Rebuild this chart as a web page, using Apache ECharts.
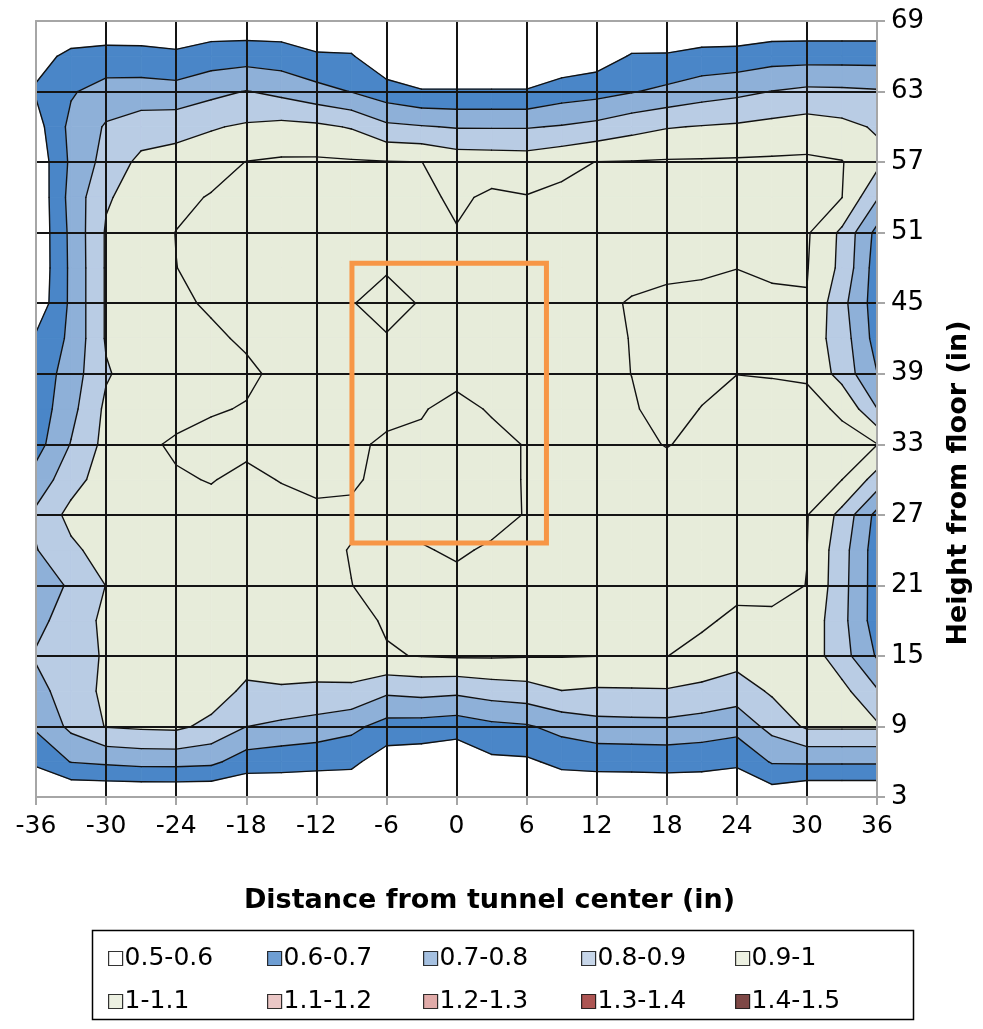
<!DOCTYPE html>
<html>
<head>
<meta charset="utf-8">
<script src="https://cdn.jsdelivr.net/npm/echarts@6/dist/echarts.min.js"></script>
<style>
  html, body { margin: 0; padding: 0; background: #ffffff; }
  #chart { width: 983px; height: 1029px; }
</style>
</head>
<body>
<div id="chart"></div>
<script>
// Horizontal measurement positions, distance from tunnel centre (in)
const distance = [-36, -33, -30, -27, -24, -21, -18, -15, -12, -9, -6, -3, 0,
                  3, 6, 9, 12, 15, 18, 21, 24, 27, 30, 33, 36];
// Vertical measurement positions, height from floor (in), top row first
const height = [69, 66, 63, 60, 57, 54, 51, 48, 45, 42, 39, 36, 33, 30, 27, 24, 21, 18, 15, 12, 9, 6, 3];

// Measured ratio, one row per height (same order as `height`), one value per distance
const ratioRows = [
  [.50,.53,.53,.53,.51,.53,.53,.53,.50,.50,.50,.50,.50,.50,.50,.50,.50,.50,.50,.51,.51,.52,.52,.52,.52],
  [.57,.62,.632,.63,.622,.65,.657,.648,.614,.609,.516,.52,.52,.52,.52,.524,.548,.609,.61,.631,.636,.658,.661,.661,.661],
  [.61,.69,.743,.746,.736,.772,.804,.774,.732,.697,.645,.606,.606,.606,.606,.648,.665,.694,.722,.755,.776,.802,.821,.818,.81],
  [.56,.727,.81,.847,.861,.892,.913,.928,.92,.893,.821,.807,.793,.793,.793,.807,.829,.867,.894,.905,.914,.93,.946,.927,.889],
  [.53,.718,.836,.925,.945,.958,1.002,1.012,1.014,1.009,1.004,1.001,.96,.955,.95,.975,1.002,1.004,1.009,1.01,1.012,1.014,1.015,1.004,.93],
  [.52,.734,.89,.94,.975,1.007,1.02,1.025,1.025,1.025,1.025,1.02,.985,1.015,1.004,1.02,1.025,1.025,1.025,1.025,1.025,1.025,1.025,1.001,.81],
  [.52,.723,.91,.95,1.002,1.03,1.03,1.03,1.03,1.03,1.03,1.03,1.005,1.03,1.03,1.03,1.03,1.03,1.03,1.03,1.03,1.03,1.012,.88,.67],
  [.52,.72,.91,.95,.999,1.027,1.03,1.03,1.03,1.03,1.004,1.03,1.03,1.03,1.03,1.03,1.03,1.024,1.014,1.01,1.001,1.013,1.005,.875,.65],
  [.53,.72,.91,.95,.987,1.009,1.03,1.03,1.03,1.002,.985,1.003,1.03,1.03,1.03,1.03,1.017,.994,.984,.98,.97,.983,.996,.83,.65],
  [.615,.72,.91,.95,.965,.988,1.01,1.03,1.03,1.025,1.003,1.02,1.03,1.03,1.03,1.03,1.027,.997,.965,.955,.955,.96,.96,.85,.66],
  [.63,.75,.89,.95,.96,.975,.987,1.016,1.03,1.03,1.03,1.03,1.025,1.025,1.03,1.03,1.03,.999,.96,.973,.999,.996,.992,.86,.702],
  [.64,.77,.92,.955,.975,.994,1.004,1.022,1.03,1.03,1.018,1.006,.975,1.008,1.02,1.03,1.03,1.01,.965,1.003,1.03,1.026,1.02,.99,.802],
  [.66,.805,.93,.985,1.01,1.021,1.015,1.03,1.03,1.012,.99,.985,.96,.975,1.005,1.03,1.03,1.016,.997,1.016,1.03,1.03,1.025,1.02,1.003],
  [.74,.86,.95,.975,.993,1.003,.985,1.003,1.016,1.013,.975,.965,.955,.97,1.006,1.03,1.03,1.03,1.027,1.03,1.03,1.03,1.02,1.001,.86],
  [.82,.93,.96,.96,.975,.98,.97,.975,.986,.983,.97,.975,.96,.975,1.004,1.03,1.03,1.03,1.03,1.03,1.03,1.03,1.005,.87,.67],
  [.795,.88,.94,.95,.965,.965,.96,.965,.975,1.004,1.009,1.006,.99,1.01,1.02,1.03,1.03,1.03,1.03,1.03,1.03,1.03,1.001,.84,.65],
  [.76,.81,.902,.95,.96,.96,.96,.96,.97,.999,1.025,1.025,1.02,1.025,1.025,1.03,1.03,1.03,1.03,1.025,1.017,1.018,.999,.835,.65],
  [.77,.85,.92,.945,.955,.955,.96,.96,.965,.982,1.006,1.02,1.025,1.025,1.025,1.025,1.03,1.03,1.03,1.01,.987,.988,.97,.83,.65],
  [.81,.86,.91,.94,.95,.95,.945,.955,.96,.965,.995,1.003,1.01,1.01,1.006,1.004,1.001,1.001,1.001,.98,.94,.95,.96,.84,.69],
  [.766,.85,.92,.935,.94,.95,.879,.887,.879,.879,.818,.831,.82,.845,.859,.898,.888,.89,.892,.872,.85,.913,.94,.93,.81],
  [.715,.823,.905,.915,.92,.874,.801,.78,.76,.726,.663,.658,.645,.677,.69,.732,.764,.768,.77,.756,.735,.832,.915,.915,.915],
  [.616,.704,.719,.732,.733,.724,.649,.636,.628,.622,.548,.54,.52,.58,.585,.623,.631,.633,.637,.632,.616,.709,.714,.714,.714],
  [.50,.50,.50,.50,.50,.50,.50,.52,.52,.52,.50,.50,.50,.50,.50,.52,.52,.52,.52,.52,.52,.54,.50,.50,.50]
];

// Contour bands
const bandEdges  = [0.5, 0.6, 0.7, 0.8, 0.9, 1.0, 1.1, 1.2, 1.3, 1.4, 1.5];
const bandLabels = ['0.5-0.6', '0.6-0.7', '0.7-0.8', '0.8-0.9', '0.9-1',
                    '1-1.1', '1.1-1.2', '1.2-1.3', '1.3-1.4', '1.4-1.5'];
const bandColors = ['#FFFFFF', '#4A86C8', '#8EB0D8', '#B9CCE4', '#E7ECDA',
                    '#E7ECDA', '#E6B9B8', '#D99694', '#982B28', '#5E1A18'];

// Highlighted zone: [left, top, right, bottom] in (in)
const highlightBox = [-8.95, 48.4, 7.7, 24.6];

const FONT = "'DejaVu Sans', 'Liberation Sans', Arial, sans-serif";

// One entry per grid cell: lower-left distance, upper height, column index, row index
const cells = [];
for (let r = 0; r < height.length - 1; r++) {
  for (let c = 0; c < distance.length - 1; c++) {
    cells.push([distance[c], height[r], c, r]);
  }
}

// Sutherland–Hodgman clip of a polygon whose vertices carry a value z
function clipPoly(poly, t, keepAbove) {
  const out = [];
  const n = poly.length;
  for (let i = 0; i < n; i++) {
    const a = poly[i], b = poly[(i + 1) % n];
    const ina = keepAbove ? a.z >= t : a.z < t;
    const inb = keepAbove ? b.z >= t : b.z < t;
    if (ina) out.push(a);
    if (ina !== inb) {
      const k = (t - a.z) / (b.z - a.z);
      out.push({ x: a.x + k * (b.x - a.x), y: a.y + k * (b.y - a.y), z: t, cut: true });
    }
  }
  return out;
}

function cellQuad(api) {
  const c = api.value(2), r = api.value(3);
  const idx = [[c, r], [c + 1, r], [c + 1, r + 1], [c, r + 1]];
  return idx.map(function (p) {
    const pt = api.coord([distance[p[0]], height[p[1]]]);
    return { x: pt[0], y: pt[1], z: ratioRows[p[1]][p[0]] };
  });
}

function renderFill(params, api) {
  const quad = cellQuad(api);
  const children = [];
  const last = bandColors.length - 1;
  for (let b = 0; b <= last; b++) {
    let poly = quad;
    if (b > 0) poly = clipPoly(poly, bandEdges[b], true);
    if (poly.length && b < last) poly = clipPoly(poly, bandEdges[b + 1], false);
    if (poly.length >= 3) {
      children.push({
        type: 'polygon',
        shape: { points: poly.map(function (p) { return [p.x, p.y]; }) },
        style: { fill: bandColors[b], stroke: bandColors[b], lineWidth: 0.8 },
        silent: true
      });
    }
  }
  return { type: 'group', children: children };
}

function renderLines(params, api) {
  const quad = cellQuad(api);
  const children = [];
  for (let b = 1; b < bandEdges.length - 1; b++) {
    const poly = clipPoly(quad, bandEdges[b], true);
    for (let i = 0; i < poly.length; i++) {
      const a = poly[i], q = poly[(i + 1) % poly.length];
      if (a.cut && q.cut) {
        children.push({
          type: 'line',
          shape: { x1: a.x, y1: a.y, x2: q.x, y2: q.y },
          style: { stroke: '#111111', lineWidth: 1.4, lineCap: 'round' },
          silent: true
        });
      }
    }
  }
  return { type: 'group', children: children };
}

function renderBox(params, api) {
  const p0 = api.coord([api.value(0), api.value(1)]);
  const p1 = api.coord([api.value(2), api.value(3)]);
  return {
    type: 'rect',
    shape: { x: p0[0], y: p0[1], width: p1[0] - p0[0], height: p1[1] - p0[1] },
    style: { fill: 'none', stroke: '#F79646', lineWidth: 5 },
    silent: true
  };
}

const axisGray = '#A6A6A6';

// Legend: one entry per band, laid out as a 5 x 2 table
const legendCols = [103, 262, 418, 576, 730];
const legendRows = [941, 984];
const legends = bandLabels.map(function (name, i) {
  return {
    data: [name],
    left: legendCols[i % 5],
    top: legendRows[Math.floor(i / 5)],
    icon: 'rect',
    itemWidth: 14,
    itemHeight: 14,
    itemGap: 0,
    selectedMode: false,
    itemStyle: { borderColor: '#000', borderWidth: 1.2 },
    textStyle: { fontSize: 25, color: '#000', fontFamily: FONT, padding: [0, 0, 0, -3] }
  };
});

const legendSeries = bandLabels.map(function (name, i) {
  return {
    name: name,
    type: 'scatter',
    data: [],
    itemStyle: { color: bandColors[i], borderColor: '#000', borderWidth: 1 }
  };
});

const chart = echarts.init(document.getElementById('chart'), null, { renderer: 'canvas' });

chart.setOption({
  animation: false,
  backgroundColor: '#ffffff',
  grid: { left: 36, right: 106, top: 21, bottom: 232, containLabel: false },
  legend: legends,
  xAxis: [
    {
      type: 'value', min: -36, max: 36, interval: 6, position: 'bottom', z: 5,
      axisLine: { show: true, onZero: false, lineStyle: { color: axisGray, width: 2 } },
      axisTick: { show: true, length: 8, lineStyle: { color: axisGray, width: 2 } },
      axisLabel: { fontSize: 25, color: '#000', margin: 17, fontFamily: FONT },
      splitLine: { show: true, lineStyle: { color: '#141414', width: 2 } },
      name: 'Distance from tunnel center (in)',
      nameLocation: 'middle', nameGap: 90,
      nameTextStyle: { fontSize: 27, fontWeight: 'bold', color: '#000', fontFamily: FONT, padding: [0, 0, 0, 66] }
    },
    {
      type: 'value', min: -36, max: 36, position: 'top', z: 6,
      axisLine: { show: true, onZero: false, lineStyle: { color: axisGray, width: 2 } },
      axisTick: { show: false }, axisLabel: { show: false }, splitLine: { show: false }
    }
  ],
  yAxis: [
    {
      type: 'value', min: 3, max: 69, interval: 6, position: 'right', z: 5,
      axisLine: { show: true, onZero: false, lineStyle: { color: axisGray, width: 2 } },
      axisTick: { show: true, length: 8, lineStyle: { color: axisGray, width: 2 } },
      axisLabel: { fontSize: 26, color: '#000', margin: 14, fontFamily: FONT },
      splitLine: { show: true, lineStyle: { color: '#141414', width: 2 } },
      name: 'Height from floor (in)',
      nameLocation: 'middle', nameGap: 68, nameRotate: 90,
      nameTextStyle: { fontSize: 27, fontWeight: 'bold', color: '#000', fontFamily: FONT, padding: [0, 148, 0, 0] }
    },
    {
      type: 'value', min: 3, max: 69, position: 'left', z: 6,
      axisLine: { show: true, onZero: false, lineStyle: { color: axisGray, width: 2 } },
      axisTick: { show: false }, axisLabel: { show: false }, splitLine: { show: false }
    }
  ],
  graphic: [
    {
      type: 'rect', left: 90, top: 928, z: 0,
      shape: { width: 821, height: 89 },
      style: { fill: 'none', stroke: '#000', lineWidth: 1.5 }
    }
  ],
  series: [
    {
      type: 'custom', name: 'bands', coordinateSystem: 'cartesian2d',
      xAxisIndex: 0, yAxisIndex: 0, z: 1, silent: true,
      encode: { x: 0, y: 1 },
      renderItem: renderFill, data: cells
    },
    {
      type: 'custom', name: 'contours', coordinateSystem: 'cartesian2d',
      xAxisIndex: 0, yAxisIndex: 0, z: 2, silent: true,
      encode: { x: 0, y: 1 },
      renderItem: renderLines, data: cells
    },
    {
      type: 'custom', name: 'zone', coordinateSystem: 'cartesian2d',
      xAxisIndex: 0, yAxisIndex: 0, z: 10, silent: true,
      encode: { x: [0, 2], y: [1, 3] },
      renderItem: renderBox, data: [highlightBox]
    }
  ].concat(legendSeries)
});
</script>
</body>
</html>
